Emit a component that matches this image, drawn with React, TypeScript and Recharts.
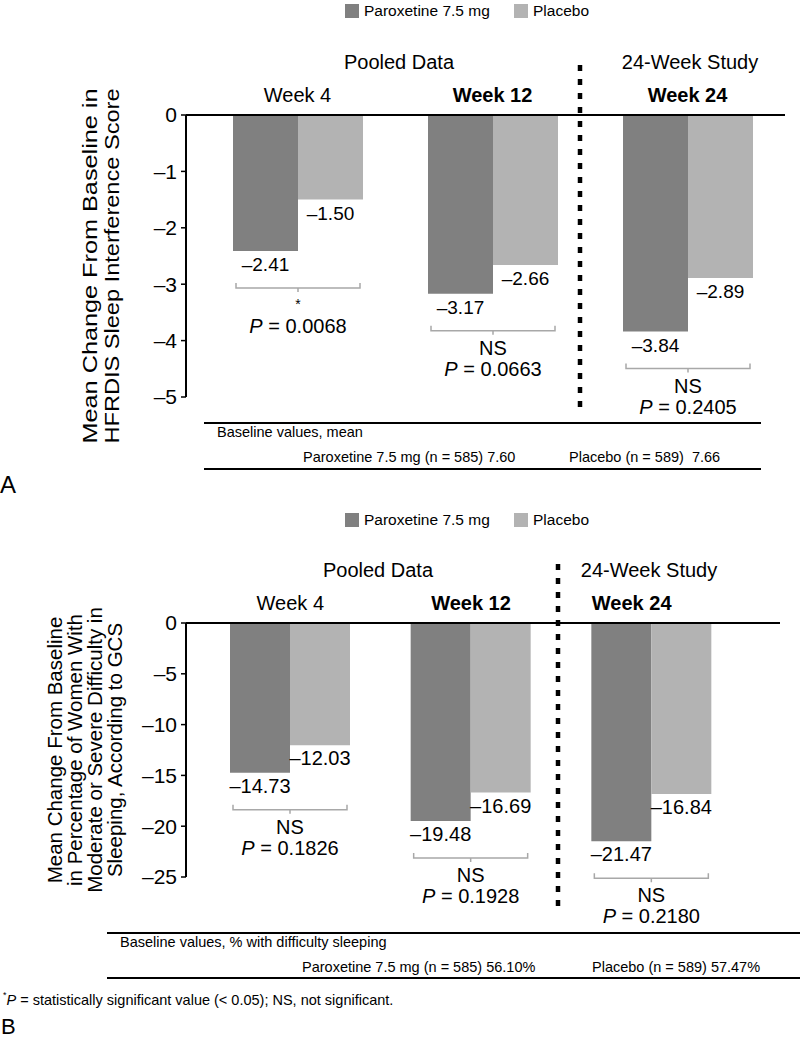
import React from 'react';
import { BarChart, Bar, XAxis, YAxis, LabelList, Legend } from 'recharts';

// shared categories
const weeks = ['Week 4', 'Week 12', 'Week 24'];
const boldWeeks = [false, true, true];

// panel A: HFRDIS sleep interference score
const sleepParoxetine = [-2.41, -3.17, -3.84];
const sleepPlacebo = [-1.5, -2.66, -2.89];
const sleepSig = ['*', 'NS', 'NS'];
const sleepP = ['0.0068', '0.0663', '0.2405'];
const sleepTicks = [0, -1, -2, -3, -4, -5];

// panel B: % women with moderate/severe difficulty sleeping (GCS)
const gcsParoxetine = [-14.73, -19.48, -21.47];
const gcsPlacebo = [-12.03, -16.69, -16.84];
const gcsSig = ['NS', 'NS', 'NS'];
const gcsP = ['0.1826', '0.1928', '0.2180'];
const gcsTicks = [0, -5, -10, -15, -20, -25];

const DARK = '#808080';
const LIGHT = '#b3b3b3';
const BRACKET = '#a8a8a8';
const FONT = '"Liberation Sans", Arial, Helvetica, sans-serif';

const dash = (v: number) => (v < 0 ? '\u2013' + Math.abs(v) : String(v));
const fmt2 = (v: number) => '\u2013' + Math.abs(v).toFixed(2);

// bar box from a label's props (negative bars may come with negative height)
const box = (p: any) => {
  const vb = p.viewBox && p.viewBox.width !== undefined ? p.viewBox : p;
  const x = Math.min(vb.x, vb.x + vb.width);
  const w = Math.abs(vb.width);
  const bottom = Math.max(vb.y, vb.y + vb.height);
  return { x, w, bottom };
};

const valueLabel = (size: number) => (p: any) => {
  const { x, w, bottom } = box(p);
  return (
    <text x={x + w / 2} y={bottom + 20} textAnchor="middle" fontSize={size} fill="#000">
      {fmt2(Number(p.value))}
    </text>
  );
};

const bracketLabel = (sig: string[], pvals: string[]) => (p: any) => {
  const { x, w, bottom } = box(p);
  const i = p.index;
  const x1 = x + 3;
  const x2 = x + 2 * w - 3;
  const cx = x + w;
  const top = bottom + 32;
  const mid = bottom + 37;
  return (
    <g>
      <path
        d={`M${x1},${top} L${x1},${mid} L${x2},${mid} L${x2},${top} M${cx},${mid} L${cx},${mid + 4}`}
        stroke={BRACKET}
        strokeWidth={1.5}
        fill="none"
      />
      {sig[i] === '*' ? (
        <text x={cx} y={bottom + 58} textAnchor="middle" fontSize={14} fill="#000">*</text>
      ) : (
        <text x={cx} y={bottom + 61} textAnchor="middle" fontSize={20} fill="#000">{sig[i]}</text>
      )}
      <text x={cx} y={bottom + 82} textAnchor="middle" fontSize={20} fill="#000">
        <tspan fontStyle="italic">P</tspan> = {pvals[i]}
      </text>
    </g>
  );
};

const weekTick = (shift: number[]) => (p: any) => {
  const i = p.index;
  return (
    <text
      x={p.x + shift[i]}
      y={p.y - 13}
      textAnchor="middle"
      fontSize={20}
      fontWeight={boldWeeks[i] ? 'bold' : 'normal'}
      fill="#000"
    >
      {p.payload.value}
    </text>
  );
};

const legendContent = () => (
  <div style={{ position: 'relative', height: 16, fontSize: 15.5, fontFamily: FONT, color: '#000' }}>
    <span style={{ position: 'absolute', left: 345, top: 0, width: 14, height: 14, background: DARK }} />
    <span style={{ position: 'absolute', left: 364, top: -2, lineHeight: '18px', whiteSpace: 'nowrap' }}>Paroxetine 7.5 mg</span>
    <span style={{ position: 'absolute', left: 514, top: 0, width: 14, height: 14, background: LIGHT }} />
    <span style={{ position: 'absolute', left: 533, top: -2, lineHeight: '18px', whiteSpace: 'nowrap' }}>Placebo</span>
  </div>
);

type PanelProps = {
  paroxetine: number[];
  placebo: number[];
  sig: string[];
  pvals: string[];
  ticks: number[];
  height: number;
  margin: { top: number; right: number; bottom: number; left: number };
  barSize: number;
  padding: { left: number; right: number };
  legendTop: number;
  labelSize: number;
  tickShift: number[];
};

function Panel(props: PanelProps) {
  const { paroxetine, placebo, sig, pvals, ticks, height, margin, barSize, padding, legendTop, labelSize, tickShift } = props;
  const data = weeks.map((w, i) => ({ week: w, paroxetine: paroxetine[i], placebo: placebo[i] }));
  const lo = ticks[ticks.length - 1];
  return (
    <BarChart width={800} height={height} data={data} margin={margin} barGap={0}>
      <Legend
        layout="vertical"
        align="center"
        verticalAlign="middle"
        content={legendContent}
        wrapperStyle={{ top: legendTop, left: 0, width: 800, height: 16 }}
      />
      <XAxis
        dataKey="week"
        orientation="top"
        height={30}
        padding={padding}
        axisLine={{ stroke: '#000', strokeWidth: 2 }}
        tickLine={false}
        tickSize={0}
        tickMargin={0}
        interval={0}
        tick={weekTick(tickShift)}
      />
      <YAxis
        type="number"
        domain={[lo, 0]}
        ticks={ticks}
        interval={0}
        width={40}
        tickSize={5}
        tickMargin={4}
        tickFormatter={dash}
        axisLine={{ stroke: '#000', strokeWidth: 2 }}
        tickLine={{ stroke: '#000', strokeWidth: 1.5 }}
        tick={{ fill: '#000', fontSize: 21 }}
      />
      <Bar dataKey="paroxetine" name="Paroxetine 7.5 mg" fill={DARK} barSize={barSize} isAnimationActive={false}>
        <LabelList dataKey="paroxetine" content={valueLabel(labelSize)} />
        <LabelList dataKey="paroxetine" content={bracketLabel(sig, pvals)} />
      </Bar>
      <Bar dataKey="placebo" name="Placebo" fill={LIGHT} barSize={barSize} isAnimationActive={false}>
        <LabelList dataKey="placebo" content={valueLabel(labelSize)} />
      </Bar>
    </BarChart>
  );
}

export default function App() {
  return (
    <div style={{ position: 'absolute', left: 0, top: 0, width: 800, height: 1041, background: '#fff', fontFamily: FONT }}>
      <div style={{ position: 'absolute', left: 0, top: 0 }}>
        <Panel
          paroxetine={sleepParoxetine}
          placebo={sleepPlacebo}
          sig={sleepSig}
          pvals={sleepP}
          ticks={sleepTicks}
          height={480}
          margin={{ top: 85, right: 15, bottom: 83, left: 146 }}
          barSize={65}
          padding={{ left: 14, right: 0 }}
          legendTop={4}
          labelSize={19}
          tickShift={[0, 0, 0]}
        />
      </div>
      <div style={{ position: 'absolute', left: 0, top: 500 }}>
        <Panel
          paroxetine={gcsParoxetine}
          placebo={gcsPlacebo}
          sig={gcsSig}
          pvals={gcsP}
          ticks={gcsTicks}
          height={500}
          margin={{ top: 93, right: 20, bottom: 123, left: 146 }}
          barSize={60}
          padding={{ left: 14, right: 38 }}
          legendTop={13}
          labelSize={20}
          tickShift={[0, 0, -20]}
        />
      </div>
      <svg
        width={800}
        height={1041}
        style={{ position: 'absolute', left: 0, top: 0, pointerEvents: 'none' }}
        fontFamily={FONT}
        fill="#000"
      >
        {/* panel A headings and divider */}
        <text x={399} y={69} textAnchor="middle" fontSize={20}>Pooled Data</text>
        <text x={690} y={69} textAnchor="middle" fontSize={20}>24-Week Study</text>
        <line x1={580} y1={65} x2={580} y2={407} stroke="#000" strokeWidth={4.5} strokeDasharray="6 8" />
        <text transform="translate(97,266) rotate(-90)" textAnchor="middle" fontSize={20} textLength={355} lengthAdjust="spacingAndGlyphs">
          Mean Change From Baseline in
        </text>
        <text transform="translate(119,266) rotate(-90)" textAnchor="middle" fontSize={20} textLength={355} lengthAdjust="spacingAndGlyphs">
          HFRDIS Sleep Interference Score
        </text>
        <line x1={204} y1={423} x2={761} y2={423} stroke="#000" strokeWidth={2} />
        <text x={217} y={437} fontSize={14.5}>Baseline values, mean</text>
        <text x={303} y={462} fontSize={14.5}>Paroxetine 7.5 mg (n = 585) 7.60</text>
        <text x={569} y={462} fontSize={14.5}>Placebo (n = 589){'\u00a0\u00a0'}7.66</text>
        <line x1={204} y1={469} x2={761} y2={469} stroke="#000" strokeWidth={2} />
        <text x={0} y={493} fontSize={24}>A</text>

        {/* panel B headings and divider */}
        <text x={378} y={577} textAnchor="middle" fontSize={20}>Pooled Data</text>
        <text x={649} y={577} textAnchor="middle" fontSize={20}>24-Week Study</text>
        <line x1={558} y1={564} x2={558} y2={913} stroke="#000" strokeWidth={4.5} strokeDasharray="6 8" />
        <text transform="translate(62,750) rotate(-90)" textAnchor="middle" fontSize={20.5}>Mean Change From Baseline</text>
        <text transform="translate(82,750) rotate(-90)" textAnchor="middle" fontSize={20.5}>in Percentage of Women With</text>
        <text transform="translate(102,750) rotate(-90)" textAnchor="middle" fontSize={20.5}>Moderate or Severe Difficulty in</text>
        <text transform="translate(122,750) rotate(-90)" textAnchor="middle" fontSize={20.5}>Sleeping, According to GCS</text>
        <line x1={107} y1={933} x2={800} y2={933} stroke="#000" strokeWidth={2} />
        <text x={120} y={947} fontSize={14.5}>Baseline values, % with difficulty sleeping</text>
        <text x={302} y={972} fontSize={14.5}>Paroxetine 7.5 mg (n = 585) 56.10%</text>
        <text x={592} y={972} fontSize={14.5}>Placebo (n = 589) 57.47%</text>
        <line x1={107} y1={978} x2={800} y2={978} stroke="#000" strokeWidth={2} />

        {/* footnote */}
        <text x={3} y={1005} fontSize={14.5}>
          <tspan fontSize={9} dy={-7}>*</tspan>
          <tspan dy={7} fontStyle="italic">P</tspan> = statistically significant value (&lt; 0.05); NS, not significant.
        </text>
        <text x={1} y={1034} fontSize={22}>B</text>
      </svg>
    </div>
  );
}
